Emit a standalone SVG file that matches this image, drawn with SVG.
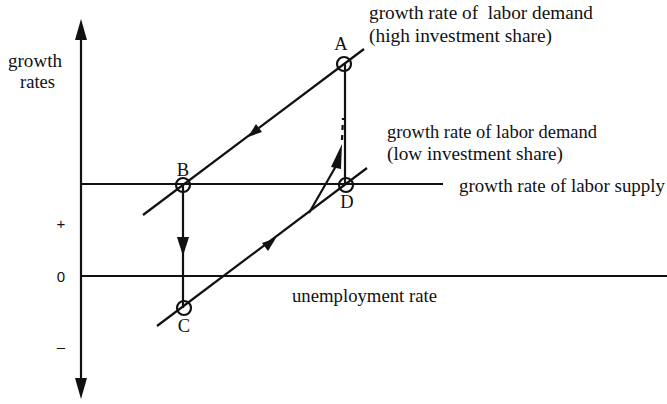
<svg xmlns="http://www.w3.org/2000/svg" width="667" height="404" viewBox="0 0 667 404">
<style>
.t{font-family:"Liberation Serif","Times New Roman",serif;font-size:18.5px;fill:#111}
.s{font-family:"Liberation Sans",Arial,sans-serif;font-size:15px;fill:#111}
.ln{stroke:#111;stroke-width:2.2;fill:none}
.c{stroke:#111;stroke-width:2.2;fill:none}
</style>
<g id="axes">
<line class="ln" x1="81" y1="36" x2="81" y2="380" stroke-width="3"/>
<path d="M81,19 L75,40 L87,40 z" fill="#111"/>
<path d="M81,399 L75,378 L87,378 z" fill="#111"/>
<line class="ln" x1="81" y1="276" x2="667" y2="276"/>
</g>
<g id="connectors">
<line class="ln" x1="81" y1="184" x2="443" y2="184"/>
<line class="ln" x1="143" y1="215" x2="364" y2="49"/>
<line class="ln" x1="157" y1="326" x2="367" y2="168"/>
<line class="ln" x1="345" y1="64" x2="345" y2="185"/>
<line class="ln" x1="183" y1="185" x2="183" y2="308"/>
<path d="M183,256 L177,237 L189,237 z" fill="#111"/>
<path d="M248,137 L262,132 L256,124 z" fill="#111"/>
<path d="M276,238 L262,243 L268,251 z" fill="#111"/>
<path d="M309,213 L336,166" class="ln" stroke-width="3"/>
<path d="M342,144 L331,167 L341,169 z" fill="#111"/>
<path d="M342,140 L343,118" class="ln" stroke-width="3" stroke-dasharray="5,5"/>
</g>
<g id="A"><circle class="c" cx="344" cy="64" r="7"/><text class="t" x="341" y="50" text-anchor="middle">A</text></g>
<g id="B"><circle class="c" cx="183" cy="185" r="7"/><text class="t" x="183" y="176" text-anchor="middle">B</text></g>
<g id="C"><circle class="c" cx="184" cy="308" r="7"/><text class="t" x="184" y="332" text-anchor="middle">C</text></g>
<g id="D"><circle class="c" cx="346" cy="185" r="7"/><text class="t" x="347" y="208" text-anchor="middle">D</text></g>
<g id="labels">
<text class="t" x="369" y="19" textLength="224" lengthAdjust="spacingAndGlyphs" xml:space="preserve">growth rate of  labor demand</text>
<text class="t" x="369" y="42" textLength="183" lengthAdjust="spacingAndGlyphs">(high investment share)</text>
<text class="t" x="387" y="138" textLength="210" lengthAdjust="spacingAndGlyphs">growth rate of labor demand</text>
<text class="t" x="387" y="160" textLength="176" lengthAdjust="spacingAndGlyphs">(low investment share)</text>
<text class="t" x="459" y="192" textLength="206" lengthAdjust="spacingAndGlyphs">growth rate of labor supply</text>
<text class="t" x="292" y="302" textLength="145" lengthAdjust="spacingAndGlyphs">unemployment rate</text>
<text class="t" x="8" y="67" textLength="54" lengthAdjust="spacingAndGlyphs">growth</text>
<text class="t" x="20" y="88" textLength="35" lengthAdjust="spacingAndGlyphs">rates</text>
<text class="s" x="61" y="229" text-anchor="middle">+</text>
<text class="s" x="61" y="282" text-anchor="middle">0</text>
<text class="s" x="61" y="352" text-anchor="middle">–</text>
</g>
</svg>
